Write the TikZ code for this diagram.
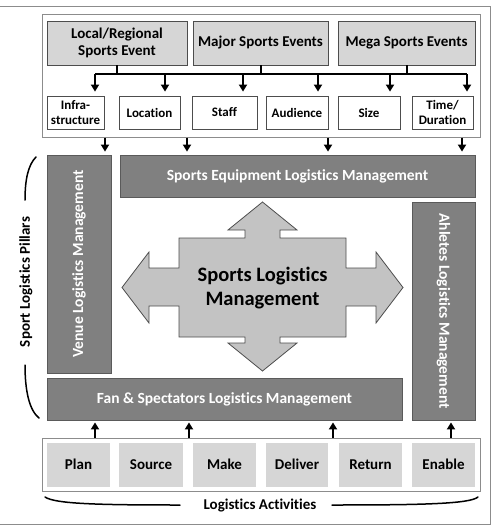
\documentclass[tikz,border=0pt]{standalone}
\usepackage{fontspec}
\setmainfont{Carlito}[Ligatures=NoCommon]
\usetikzlibrary{arrows.meta}

\definecolor{framegray}{HTML}{8C8C8C}
\definecolor{boxline}{HTML}{4D4D4D}
\definecolor{eventfill}{HTML}{D6D6D6}
\definecolor{pillarfill}{HTML}{808080}
\definecolor{pillarline}{HTML}{5A5A5A}
\definecolor{corefill}{HTML}{C3C3C3}

\tikzset{
  frame/.style={draw=framegray, line width=1pt, inner sep=0pt},
  eventbox/.style={draw=boxline, fill=eventfill, line width=0.8pt, inner sep=0pt, align=center, font=\fontsize{15}{17.5}\selectfont\bfseries},
  attrbox/.style={draw=boxline, fill=white, line width=0.8pt, inner sep=0pt, align=center, font=\fontsize{13}{14.5}\selectfont\bfseries},
  pillar/.style={draw=pillarline, fill=pillarfill, line width=0.8pt, inner sep=0pt, text=white, font=\fontsize{15.5}{18}\selectfont\bfseries},
  actbox/.style={fill=eventfill, inner sep=0pt, text height=11pt, text depth=3pt, font=\fontsize{15}{18}\selectfont\bfseries},
  arr/.style={line width=2pt, -{Triangle[width=8pt,length=7pt]}},
  link/.style={line width=2pt},
  brace/.style={line width=1.5pt, line cap=round}
}

\begin{document}
\begin{tikzpicture}[x=1pt, y=-1pt]
\useasboundingbox (0,0) rectangle (500,525);
\draw[framegray, line width=1pt] (-3,6) -- (490,6) -- (490,524) -- (-3,524);

% event types and attributes
\node[frame, minimum width=438pt, minimum height=123pt] (typeframe) at (261,75.5) {};
\node[eventbox, minimum width=140pt, minimum height=44pt] (local) at (117,43) {Local/Regional\\Sports Event};
\node[eventbox, minimum width=135pt, minimum height=44pt] (major) at (260.5,43) {Major Sports Events};
\node[eventbox, minimum width=137pt, minimum height=44pt] (mega) at (406.5,43) {Mega Sports Events};

\node[attrbox, minimum width=57pt, minimum height=33pt] (infra) at (75.5,112.5) {Infra-\\structure};
\node[attrbox, minimum width=61pt, minimum height=33pt] (location) at (149.5,112.5) {Location};
\node[attrbox, minimum width=65pt, minimum height=33pt] (staff) at (224.5,112.5) {Staff};
\node[attrbox, minimum width=62pt, minimum height=33pt] (audience) at (297,112.5) {Audience};
\node[attrbox, minimum width=62pt, minimum height=33pt] (size) at (369,112.5) {Size};
\node[attrbox, minimum width=61pt, minimum height=33pt] (time) at (442.5,112.5) {Time/\\Duration};

\coordinate (busl) at (95,74);
\coordinate (busr) at (467,74);
\draw[link] (busl) -- (busr);
\draw[link] (local.south) -- (local.south |- busl);
\draw[link] (major.south) -- (major.south |- busl);
\draw[link] (mega.south) -- (mega.south |- busl);
\foreach \x/\n in {95/infra, 165/location, 243/staff, 318/audience, 390/size, 467/time}
  \draw[arr, shorten >=4pt] (\x,74) -- (\x,0 |- \n.north);

% pillars
\node[pillar, minimum width=64pt, minimum height=218pt] (venue) at (79,264) {};
\node[rotate=90, text=white, font=\fontsize{15.5}{18}\selectfont\bfseries] at (venue.center) {Venue Logistics Management};
\node[pillar, minimum width=355pt, minimum height=42pt] (equip) at (297.5,176) {Sports Equipment Logistics Management};
\node[pillar, minimum width=63pt, minimum height=218pt] (athletes) at (443.5,311) {};
\node[rotate=-90, text=white, font=\fontsize{15.5}{18}\selectfont\bfseries] at (athletes.center) {Ahletes Logistics Management};
\node[pillar, minimum width=355pt, minimum height=42pt] (fan) at (224.5,399) {Fan \& Spectators Logistics Management};

\draw[arr, shorten >=3pt] (105,0 |- typeframe.south) -- (105,0 |- venue.north);
\draw[arr, shorten >=3pt] (187,0 |- typeframe.south) -- (187,0 |- equip.north);
\draw[arr, shorten >=3pt] (328,0 |- typeframe.south) -- (328,0 |- equip.north);
\draw[arr, shorten >=3pt] (462,0 |- typeframe.south) -- (462,0 |- equip.north);

% central four-way arrow
\draw[boxline, fill=corefill, line width=0.8pt]
  (262.5,202) -- (297,230) -- (280,230) -- (280,238) -- (346,238) -- (346,268)
  -- (376,268) -- (376,252) -- (403,287.5) -- (376,323) -- (376,306) -- (346,306)
  -- (346,337) -- (280,337) -- (280,343) -- (297,343) -- (262.5,371) -- (228,343)
  -- (245,343) -- (245,337) -- (179,337) -- (179,306) -- (149,306) -- (149,323)
  -- (122,287.5) -- (149,252) -- (149,268) -- (179,268) -- (179,238) -- (245,238)
  -- (245,230) -- (228,230) -- cycle;
\node[align=center, font=\fontsize{20.5}{24}\selectfont\bfseries] (core) at (262.5,288) {Sports Logistics\\Management};

% logistics activities
\node[frame, minimum width=438pt, minimum height=53pt] (actframe) at (261,464.5) {};
\node[actbox, minimum width=63pt, minimum height=44pt] (plan) at (78.5,465) {Plan};
\node[actbox, minimum width=64pt, minimum height=44pt] (source) at (151,465) {Source};
\node[actbox, minimum width=63pt, minimum height=44pt] (make) at (224.5,465) {Make};
\node[actbox, minimum width=62pt, minimum height=44pt] (deliver) at (297,465) {Deliver};
\node[actbox, minimum width=63pt, minimum height=44pt] (return) at (370.5,465) {Return};
\node[actbox, minimum width=63pt, minimum height=44pt] (enable) at (443.5,465) {Enable};

\draw[arr, shorten >=2pt] (95,0 |- actframe.north) -- (95,0 |- fan.south);
\draw[arr, shorten >=2pt] (189,0 |- actframe.north) -- (189,0 |- fan.south);
\draw[arr, shorten >=2pt] (333,0 |- actframe.north) -- (333,0 |- fan.south);
\draw[arr, shorten >=2pt] (451,0 |- actframe.north) -- (451,0 |- athletes.south);

% braces and labels
\node[rotate=90, font=\fontsize{15}{18}\selectfont\bfseries] (pillars) at (26,282) {Sport Logistics Pillars};
\draw[brace] (36,157) .. controls (28,165) and (25,180) .. (25,200);
\draw[brace] (25,365) .. controls (25,390) and (29,410) .. (39,418);
\node[font=\fontsize{15}{18}\selectfont\bfseries] (activities) at (260,506) {Logistics Activities};
\draw[brace] (45,497) .. controls (55,504) and (100,505) .. (180,505);
\draw[brace] (332,505) .. controls (420,505) and (470,504) .. (478,497);
\end{tikzpicture}
\end{document}
